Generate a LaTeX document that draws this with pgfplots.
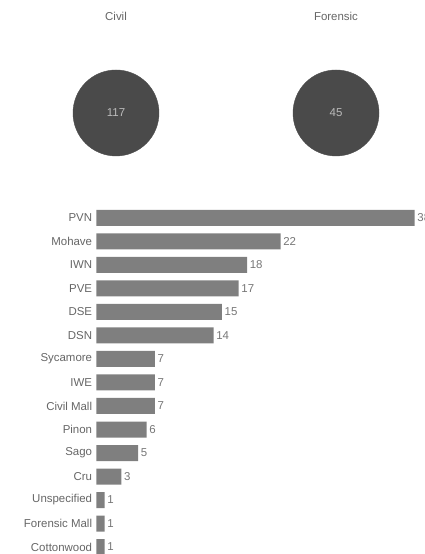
\documentclass[border=0pt]{standalone}
\usepackage{pgfplots}
\pgfplotsset{compat=1.18}
\usepackage{fontspec}
\setmainfont{Liberation Sans}
\definecolor{circ}{HTML}{4A4A4A}
\definecolor{barc}{HTML}{7F7F7F}
\definecolor{lab}{HTML}{666666}
\definecolor{val}{HTML}{777777}
\definecolor{inner}{HTML}{BBBBBB}
\begin{document}
\begin{tikzpicture}[x=1bp,y=1bp]
\path[use as bounding box] (0,0) rectangle (424,554);
% circles
\begin{axis}[
  at={(0,0)}, anchor=south west,
  scale only axis, width=424bp, height=554bp,
  xmin=0, xmax=424, ymin=0, ymax=554,
  hide axis, clip=false,
  /pgf/number format/assume math mode=true,
]
\addplot[only marks, mark=*, mark size=43bp, mark options={fill=circ, draw=circ},
  point meta=explicit, nodes near coords,
  every node near coord/.style={anchor=center, text=inner, font=\fontsize{11.5}{13}\selectfont}]
  coordinates {(116,441) [117] (336,441) [45]};
\node[text=lab, font=\fontsize{11.5}{13}\selectfont] at (axis cs:116,538) {Civil};
\node[text=lab, font=\fontsize{11.5}{13}\selectfont] at (axis cs:336,538) {Forensic};
\end{axis}
% bars
\begin{axis}[
  at={(96.3bp,-4.75bp)}, anchor=south west,
  scale only axis, width=318.4bp, height=352.5bp,
  xbar, bar width=16bp,
  xmin=0, xmax=38, ymin=-0.5, ymax=14.5,
  y dir=reverse,
  axis line style={draw=none},
  xtick=\empty,
  ytick={0,...,14},
  yticklabels={PVN,Mohave,IWN,PVE,DSE,DSN,Sycamore,IWE,Civil Mall,Pinon,Sago,Cru,Unspecified,Forensic Mall,Cottonwood},
  major tick length=0pt,
  yticklabel style={text=lab, font=\fontsize{11.5}{13}\selectfont, inner sep=4bp},
  clip=false,
  nodes near coords,
  every node near coord/.style={anchor=west, text=val, font=\fontsize{11.5}{13}\selectfont, inner sep=2.5bp},
  /pgf/number format/assume math mode=true,
]
\addplot[fill=barc, draw=none] coordinates {
 (38,0) (22,1) (18,2) (17,3) (15,4) (14,5) (7,6) (7,7) (7,8) (6,9) (5,10) (3,11) (1,12) (1,13) (1,14)};
\end{axis}
\end{tikzpicture}
\end{document}
